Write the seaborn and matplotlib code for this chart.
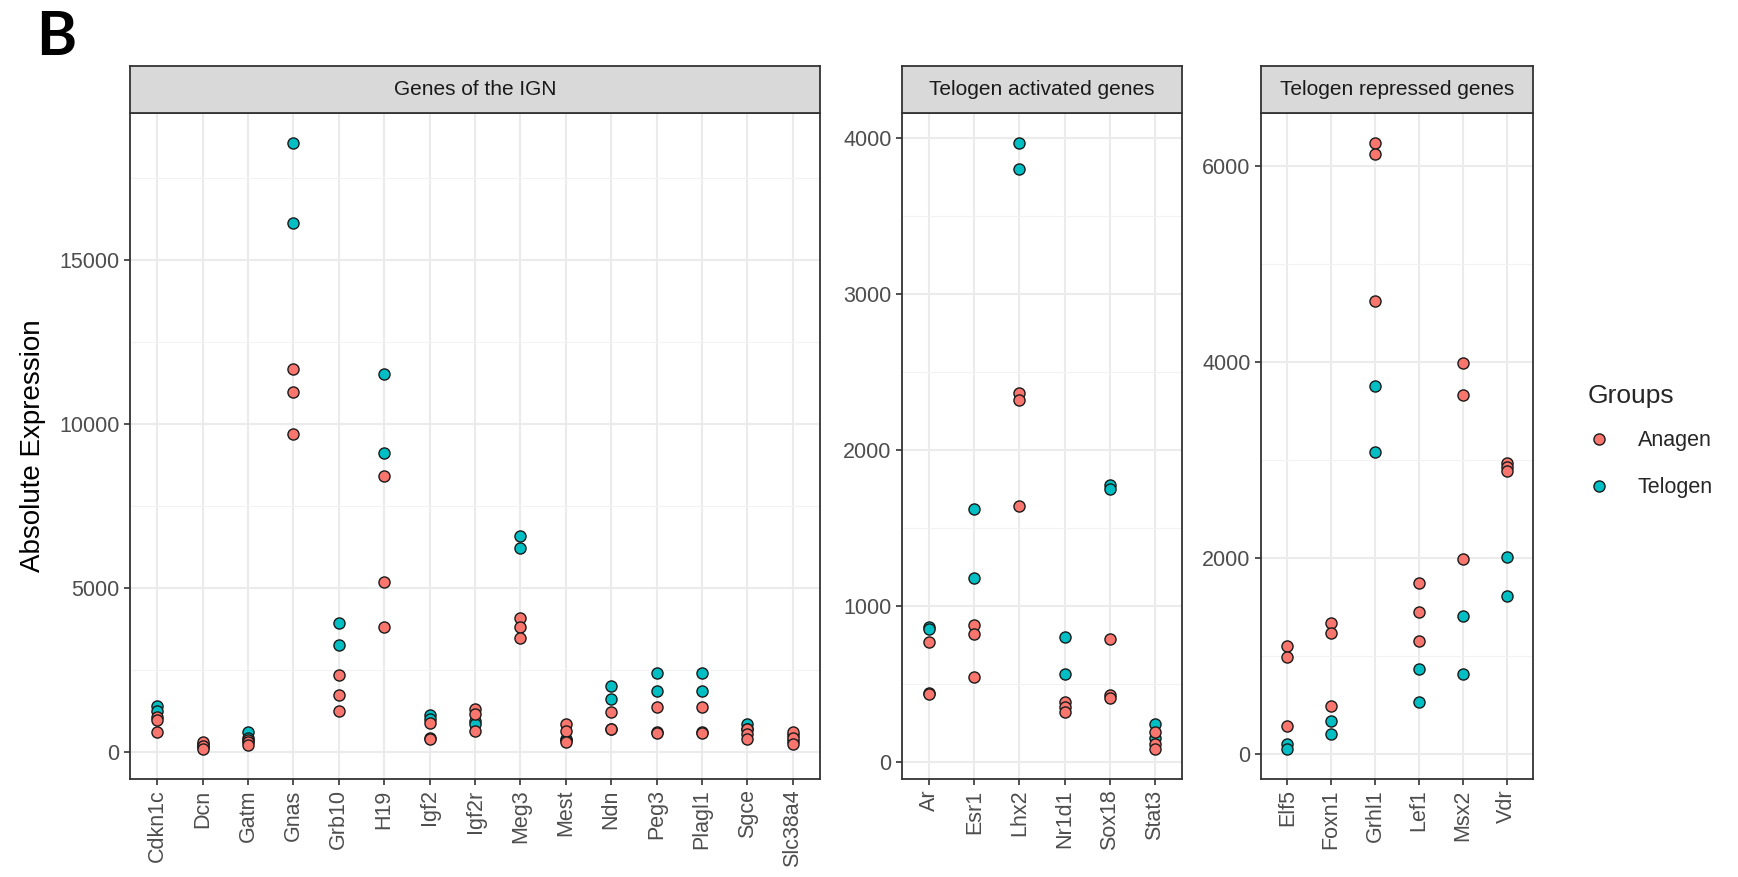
import numpy as np
import pandas as pd
import matplotlib
matplotlib.use("Agg")
import matplotlib.pyplot as plt
from matplotlib.lines import Line2D
from matplotlib.ticker import MultipleLocator
import seaborn as sns

sns.set_theme(style="white")
plt.rcParams['font.family'] = ['Liberation Sans', 'DejaVu Sans']

# ---------------- data ----------------
groups = ["Anagen", "Telogen"]
colors = {"Anagen": "#F8766D", "Telogen": "#00BFC4"}

ign_genes = ["Cdkn1c", "Dcn", "Gatm", "Gnas", "Grb10", "H19", "Igf2", "Igf2r",
             "Meg3", "Mest", "Ndn", "Peg3", "Plagl1", "Sgce", "Slc38a4"]
ign_anagen = [[1080, 980, 630], [300, 190, 110], [390, 300, 220],
              [11700, 11000, 9700], [2360, 1750, 1270], [8430, 5180, 3830],
              [900, 450, 410], [1320, 1160, 660], [4110, 3820, 3500],
              [860, 660, 320], [1220, 720, 700], [1370, 610, 590],
              [1370, 610, 590], [700, 560, 410], [610, 450, 260]]
ign_telogen = [[1420, 1250], [240, 150], [610, 450], [18570, 16150],
               [3950, 3270], [11550, 9140], [1140, 1010], [960, 870],
               [6610, 6220], [420, 380], [2010, 1620], [2420, 1870],
               [2420, 1870], [850, 720], [520, 350]]

act_genes = ["Ar", "Esr1", "Lhx2", "Nr1d1", "Sox18", "Stat3"]
act_anagen = [[766, 443, 435], [877, 823, 543], [2362, 2319, 1643],
              [383, 351, 319], [787, 430, 408], [191, 117, 85]]
act_telogen = [[862, 851], [1621, 1181], [3964, 3798], [804, 562],
               [1777, 1749], [245, 155]]

rep_genes = ["Elf5", "Foxn1", "Grhl1", "Lef1", "Msx2", "Vdr"]
rep_anagen = [[1095, 986, 281], [1332, 1231, 485], [6234, 6125, 4627],
              [1746, 1451, 1156], [3990, 3661, 1986], [2973, 2930, 2892]]
rep_telogen = [[95, 51], [339, 197], [3753, 3081], [864, 532],
               [1410, 814], [2010, 1614]]

panel_titles = ["Genes of the IGN", "Telogen activated genes", "Telogen repressed genes"]
y_major = [5000, 1000, 2000]


def long_df(genes, anagen, telogen):
    rows = []
    for g, a, t in zip(genes, anagen, telogen):
        for v in a:
            rows.append((g, "Anagen", v))
        for v in t:
            rows.append((g, "Telogen", v))
    return pd.DataFrame(rows, columns=["gene", "group", "value"])


panels = [long_df(ign_genes, ign_anagen, ign_telogen),
          long_df(act_genes, act_anagen, act_telogen),
          long_df(rep_genes, rep_anagen, rep_telogen)]
panel_genes = [ign_genes, act_genes, rep_genes]

# ---------------- layout ----------------
W, H = 1738, 877
fig = plt.figure(figsize=(W / 100, H / 100), dpi=100)
fig.patch.set_facecolor("white")

px_top, px_bot = 113, 779
strip_h = 47
xs = [(130, 820), (902, 1182), (1261, 1533)]

dark = "#333333"
msize = 8.0
for i, (df, genes) in enumerate(zip(panels, panel_genes)):
    x0, x1 = xs[i]
    ax = fig.add_axes([x0 / W, 1 - px_bot / H, (x1 - x0) / W, (px_bot - px_top) / H])
    ax.set_facecolor("white")
    for grp in ["Telogen", "Anagen"]:
        sub = df[df.group == grp]
        sns.stripplot(data=sub, x="gene", y="value", order=genes, color=colors[grp],
                      jitter=False, size=msize, linewidth=1.0, edgecolor="#1a1a1a",
                      ax=ax, zorder=3)
    n = len(genes)
    ax.set_xlim(-0.6, n - 0.4)
    vmin, vmax = df.value.min(), df.value.max()
    rng = vmax - vmin
    ax.set_ylim(vmin - 0.05 * rng, vmax + 0.05 * rng)
    ax.yaxis.set_major_locator(MultipleLocator(y_major[i]))
    ax.yaxis.set_minor_locator(MultipleLocator(y_major[i] / 2))
    ax.set_axisbelow(True)
    ax.xaxis.grid(True, which="major", color="#EBEBEB", lw=1.5)
    ax.yaxis.grid(True, which="major", color="#EBEBEB", lw=1.5)
    ax.yaxis.grid(True, which="minor", color="#F2F2F2", lw=0.8)
    for sp in ax.spines.values():
        sp.set_color(dark)
        sp.set_linewidth(1.3)
    ax.tick_params(axis="both", which="major", length=4.5, width=1.2, color=dark,
                   labelsize=15.5, labelcolor="#4D4D4D", pad=3,
                   bottom=True, left=True)
    ax.tick_params(axis="both", which="minor", length=0)
    ax.set_xticks(range(n))
    ax.set_xticklabels(genes, rotation=90, ha="center", va="top")
    ax.set_xlabel("")
    ax.set_ylabel("")

    sax = fig.add_axes([x0 / W, 1 - px_top / H, (x1 - x0) / W, strip_h / H])
    sax.set_facecolor("#D9D9D9")
    sax.set_xticks([])
    sax.set_yticks([])
    for sp in sax.spines.values():
        sp.set_color(dark)
        sp.set_linewidth(1.3)
    sax.text(0.5, 0.5, panel_titles[i], ha="center", va="center",
             fontsize=15, color="#1A1A1A", transform=sax.transAxes)

fig.text(33 / W, 1 - ((px_top + px_bot) / 2) / H, "Absolute Expression",
         rotation=90, ha="center", va="center", fontsize=20, color="black")

fig.text(36 / W, 1 - 37 / H, "B", ha="left", va="center", fontsize=44,
         fontweight="bold", family=["Lato", "DejaVu Sans"], color="black")

handles = [Line2D([], [], marker="o", ls="", markerfacecolor=colors[g],
                  markeredgecolor="#1a1a1a", markersize=msize, markeredgewidth=1.0)
           for g in groups]
leg = fig.legend(handles, groups, title="Groups", loc="upper left",
                 bbox_to_anchor=(1588 / W, 1 - 384 / H), frameon=False,
                 fontsize=15.5, title_fontsize=19, alignment="left",
                 handlelength=1.0, handletextpad=1.3, labelspacing=1.2,
                 borderaxespad=0, borderpad=0)
leg._legend_box.sep = 16

fig.savefig("out.png", dpi=100, facecolor="white")
